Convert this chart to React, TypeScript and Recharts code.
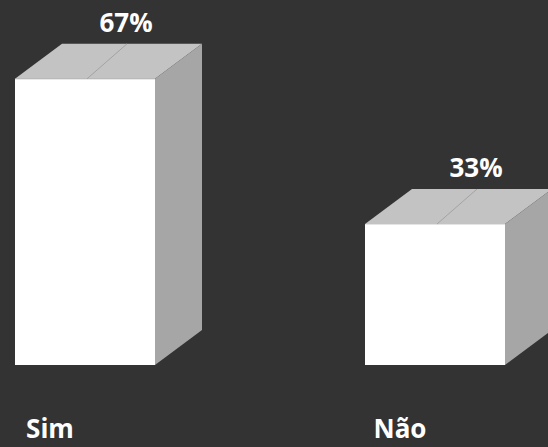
import React from "react";
import { BarChart, Bar, XAxis, YAxis, LabelList } from "recharts";

const categories = ["Sim", "Não"];
const values = [67, 33];
const valueLabels = ["67%", "33%"];

const data = categories.map((c, i) => ({ name: c, value: values[i], label: valueLabels[i] }));

const DX = 47;
const DY = 35;
const FONT = "'Open Sans', 'Noto Sans', sans-serif";

const Box = (props: any) => {
  const { x, y, width, height } = props;
  const r = x + width;
  const b = y + height;
  const cx = x + width / 2;
  return (
    <g>
      <polygon points={`${x},${y} ${x + DX},${y - DY} ${r + DX},${y - DY} ${r},${y}`} fill="#c3c3c3" />
      <polygon points={`${r},${y} ${r + DX},${y - DY} ${r + DX},${b - DY} ${r},${b}`} fill="#a6a6a6" />
      <rect x={x} y={y} width={width} height={height} fill="#ffffff" />
      <line x1={x} y1={y + 0.5} x2={r} y2={y + 0.5} stroke="#e4e4e4" strokeWidth={1} />
      <line x1={cx + 2} y1={y} x2={cx + 42} y2={y - DY} stroke="#a3a3a3" strokeWidth={1} />
    </g>
  );
};

const TopLabel = (props: any) => {
  const { x, y, width, value } = props;
  return (
    <text x={x + width / 2 + 41} y={y - 47} textAnchor="middle" fill="#ffffff" fontFamily={FONT} fontWeight={700} fontSize={26}>
      {value}
    </text>
  );
};

const Tick = (props: any) => {
  const { x, y, payload } = props;
  return (
    <text x={x - 35} y={y} dy={65} textAnchor="middle" fill="#ffffff" fontFamily={FONT} fontWeight={700} fontSize={26}>
      {payload.value}
    </text>
  );
};

export default function App() {
  return (
    <div style={{ position: "fixed", left: 0, top: 0, width: 548, height: 447, background: "#333333", overflow: "hidden" }}>
      <BarChart width={548} height={447} data={data} margin={{ top: 66, right: -62, bottom: 52, left: -90 }}>
        <XAxis dataKey="name" axisLine={false} tickLine={false} tick={<Tick />} height={30} interval={0} />
        <YAxis hide domain={[0, 70]} />
        <Bar dataKey="value" barSize={140} shape={<Box />} isAnimationActive={false}>
          <LabelList dataKey="label" content={<TopLabel />} />
        </Bar>
      </BarChart>
    </div>
  );
}
